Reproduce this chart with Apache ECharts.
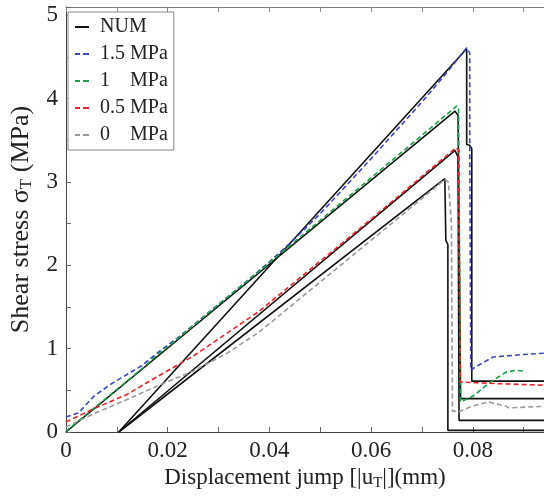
<!DOCTYPE html>
<html>
<head>
<meta charset="utf-8">
<script src="https://cdn.jsdelivr.net/npm/echarts@6/dist/echarts.min.js"></script>
<style>html,body{margin:0;padding:0;background:#fff}#c{width:544px;height:498px}</style>
</head>
<body>
<div id="c"></div>
<script>
// ---- data ([displacement mm, stress MPa]) ----
const num15 = [[0.0104,0],[0.0788,4.6],[0.0788,3.45],[0.0794,3.44],[0.0798,3.4],[0.0798,0.61],[0.1,0.61]];
const num1  = [[0,0],[0.0765,3.85],[0.0771,3.8],[0.0776,0.4],[0.1,0.4]];
const num05 = [[0.0104,0],[0.0765,3.38],[0.0771,3.3],[0.0773,0.14],[0.1,0.14]];
const num0  = [[0.0104,0],[0.0745,3.04],[0.0747,2.3],[0.0751,2.25],[0.0751,0.02],[0.1,0.02]];

const exp15 = [[0,0.18],[0.0025,0.23],[0.0055,0.43],[0.009,0.58],[0.012,0.69],[0.015,0.8],[0.018,0.95],[0.022,1.13],[0.026,1.33],[0.03,1.53],[0.035,1.78],[0.04,2.04],[0.045,2.32],[0.05,2.62],[0.055,2.95],[0.06,3.28],[0.065,3.62],[0.07,3.96],[0.075,4.32],[0.0788,4.61],[0.0794,4.55],[0.0794,3.5],[0.0796,0.74],[0.0805,0.78],[0.084,0.9],[0.09,0.93],[0.095,0.95]];
const exp1  = [[0,0.01],[0.005,0.26],[0.01,0.51],[0.015,0.76],[0.018,0.93],[0.02,1.02],[0.03,1.53],[0.04,2.03],[0.05,2.54],[0.06,3.05],[0.07,3.56],[0.0768,3.91],[0.0772,3.9],[0.0776,0.36],[0.08,0.43],[0.0835,0.6],[0.0866,0.72],[0.0885,0.74],[0.0902,0.73]];
const exp05 = [[0,0.12],[0.0055,0.28],[0.012,0.45],[0.0167,0.62],[0.025,0.91],[0.0318,1.19],[0.038,1.45],[0.046,1.85],[0.055,2.3],[0.065,2.81],[0.0716,3.15],[0.0767,3.41],[0.0772,3.38],[0.0775,0.6],[0.085,0.58],[0.095,0.56]];
const exp0  = [[0,0.06],[0.0055,0.22],[0.012,0.39],[0.0186,0.57],[0.025,0.73],[0.0318,0.95],[0.038,1.2],[0.046,1.6],[0.055,2.05],[0.065,2.55],[0.0745,3.03],[0.0752,3.0],[0.0758,2.5],[0.076,0.25],[0.0776,0.25],[0.0798,0.31],[0.0831,0.36],[0.0865,0.31],[0.0871,0.29],[0.095,0.31]];

const legendNames = ['NUM','1.5 MPa','1 MPa','0.5 MPa','0 MPa'];
const legendLabels = ['NUM','1.5 MPa','1    MPa','0.5 MPa','0    MPa'];
const xTicks = [0,0.02,0.04,0.06,0.08];
const yTicks = [0,1,2,3,4,5];

const FONT = 'Liberation Serif';
const numStyle = {color:'#111', width:1.6, type:'solid'};
const SOLID_ICON = 'path://M0,0h14v2h-14z';
const DASH_ICON = 'path://M0,0h5v2h-5z M8,0h6v2h-6z';

function numSeries(d){
  return {name:'NUM', type:'line', data:d, showSymbol:false, symbol:'none', z:2,
    lineStyle:numStyle, itemStyle:{color:'#111'}, animation:false};
}
function expSeries(name, d, color){
  return {name:name, type:'line', data:d, showSymbol:false, symbol:'none', z:3,
    lineStyle:{color:color, width:1.6, type:[5,3]}, itemStyle:{color:color}, animation:false};
}

const chart = echarts.init(document.getElementById('c'), null, {renderer:'canvas'});
chart.setOption({
  animation:false,
  backgroundColor:'#fff',
  textStyle:{fontFamily:FONT},
  grid:{left:65, right:0, top:7, bottom:66, containLabel:false},
  legend:{
    data:legendNames.map(function(n,i){return {name:n, icon: i===0?SOLID_ICON:DASH_ICON};}),
    orient:'vertical', left:68, top:12,
    backgroundColor:'#fff',
    borderColor:'#888', borderWidth:1,
    padding:[5,6,5,7],
    itemWidth:14, itemHeight:2, itemGap:7,
    formatter:function(n){return legendLabels[legendNames.indexOf(n)];},
    textStyle:{fontFamily:FONT, fontSize:20, color:'#222', lineHeight:16, padding:[0,0,0,6]}
  },
  xAxis:[{
    type:'value', min:0, max:0.094, interval:0.01,
    name:'Displacement jump [|u{sub|T}|](mm)',
    nameLocation:'middle', nameGap:31,
    nameTextStyle:{fontFamily:FONT, fontSize:23, color:'#222',
      rich:{sub:{fontFamily:FONT, fontSize:15, color:'#222', verticalAlign:'bottom', padding:[10,0,0,0]}}},
    axisLine:{show:true, onZero:false, lineStyle:{color:'#444', width:1}},
    axisTick:{show:true, inside:true, length:5, lineStyle:{color:'#666'}},
    axisLabel:{fontFamily:FONT, fontSize:23, color:'#222', margin:7, showMaxLabel:false,
      formatter:function(v){
        for (const t of xTicks){ if (Math.abs(v-t)<1e-9) return t===0?'0':t.toFixed(2); }
        return '';
      }},
    splitLine:{show:false}
  },{
    type:'value', min:0, max:0.094, interval:0.01, position:'top',
    axisLine:{show:true, onZero:false, lineStyle:{color:'#777', width:1}},
    axisTick:{show:true, inside:true, length:5, lineStyle:{color:'#888'}},
    axisLabel:{show:false}, splitLine:{show:false}
  }],
  yAxis:[{
    type:'value', min:0, max:5.1, interval:0.5,
    name:'Shear stress σ{sub|T} (MPa)',
    nameLocation:'middle', nameGap:20,
    nameTextStyle:{fontFamily:FONT, fontSize:26, color:'#222',
      rich:{sub:{fontFamily:FONT, fontSize:17, color:'#222', verticalAlign:'bottom', padding:[12,0,0,0]}}},
    axisLine:{show:true, onZero:false, lineStyle:{color:'#444', width:1}},
    axisTick:{show:true, inside:true, length:5, lineStyle:{color:'#666'}},
    axisLabel:{fontFamily:FONT, fontSize:23, color:'#222', margin:8,
      formatter:function(v){
        for (const t of yTicks){ if (Math.abs(v-t)<1e-9) return String(t); }
        return '';
      }},
    splitLine:{show:false}
  }],
  series:[
    numSeries(num15), numSeries(num1), numSeries(num05), numSeries(num0),
    expSeries('1.5 MPa', exp15, '#3a48c4'),
    expSeries('1 MPa', exp1, '#19a040'),
    expSeries('0.5 MPa', exp05, '#ec2228'),
    expSeries('0 MPa', exp0, '#9a9a9a')
  ]
});
</script>
</body>
</html>
